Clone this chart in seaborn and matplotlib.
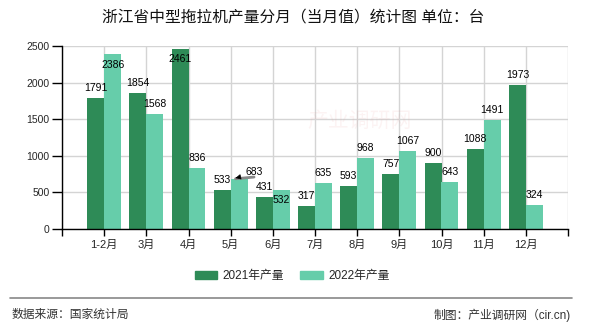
import matplotlib
matplotlib.use("Agg")
import matplotlib.pyplot as plt
import seaborn as sns
import pandas as pd

months = ["1-2月", "3月", "4月", "5月", "6月", "7月", "8月", "9月", "10月", "11月", "12月"]
y2021 = [1791, 1854, 2461, 533, 431, 317, 593, 757, 900, 1088, 1973]
y2022 = [2386, 1568, 836, 683, 532, 635, 968, 1067, 643, 1491, 324]
series_names = ["2021年产量", "2022年产量"]
yticks = [0, 500, 1000, 1500, 2000, 2500]

title = "浙江省中型拖拉机产量分月（当月值）统计图 单位：台"
source = "数据来源：国家统计局"
credit = "制图：产业调研网（cir.cn)"
watermark = "产业调研网"

colors = ["#2e8b57", "#66cdaa"]

df = pd.DataFrame({
    "month": months * 2,
    "value": y2021 + y2022,
    "series": [series_names[0]] * len(months) + [series_names[1]] * len(months),
})

sns.set_theme(style="white")
plt.rcParams["font.family"] = ["Liberation Sans", "Noto Sans CJK SC", "DejaVu Sans"]

fig = plt.figure(figsize=(5.9, 3.3), dpi=100)
ax = fig.add_axes([62 / 590, 101 / 330, 506 / 590, 183 / 330])

sns.barplot(data=df, x="month", y="value", hue="series", order=months,
            hue_order=series_names, palette=colors, width=0.8, saturation=1,
            ax=ax, legend=False, zorder=2)
for p in ax.patches:
    p.set_edgecolor("none")

ax.set_xlim(-1, len(months))
ax.set_ylim(0, 2500)
ax.set_xticks(range(-1, len(months) + 1))
ax.set_xticklabels([""] + months + [""], fontsize=8)
ax.set_yticks(yticks)
ax.set_yticklabels([str(v) for v in yticks], fontsize=7.5)
ax.set_xlabel("")
ax.set_ylabel("")
ax.grid(True, color="#d4d4d4", lw=1, zorder=0)
ax.set_axisbelow(True)
for s in ["top", "right"]:
    ax.spines[s].set_visible(False)
for s in ["left", "bottom"]:
    ax.spines[s].set_color("black")
    ax.spines[s].set_linewidth(1)
ax.tick_params(axis="x", which="both", direction="out", length=5, width=1,
               color="black", bottom=True, pad=3)
ax.tick_params(axis="y", which="both", direction="out", length=7, width=1,
               color="black", left=True, pad=2)

# value labels (pixel offsets for a few labels that are displaced in the original)
px = 0.72
special = {(0, 2): (0, -20), (1, 0): (0, -21), (1, 3): (15, -3), (1, 4): (0, -20)}
for si, vals in enumerate([y2021, y2022]):
    for i, v in enumerate(vals):
        xc = i + (-0.2 if si == 0 else 0.2)
        dx, dy = special.get((si, i), (0, 0))
        ax.annotate(str(v), (xc, v), xytext=(dx * px, (5 + dy) * px),
                    textcoords="offset points", ha="center", va="bottom",
                    fontsize=7.5, color="black", zorder=5, annotation_clip=False)

# leader for the displaced 683 label
i683 = 3
ax.annotate("", xy=(i683 + 0.05, y2022[i683]), xytext=(i683 + 0.62, y2022[i683] + 30),
            arrowprops=dict(arrowstyle="-", color="#888888", lw=2), zorder=4)
ax.annotate("", xy=(i683 + 0.05, y2022[i683] + 5), xytext=(i683 + 0.2, y2022[i683] + 25),
            arrowprops=dict(arrowstyle="-|>", color="black", lw=0.5, mutation_scale=8), zorder=5)

# faint watermark
fig.text(360 / 590, 1 - 121 / 330, watermark, fontsize=15, color="#e8a0a0", alpha=0.12,
         ha="center", va="center", family=["Noto Sans CJK SC"])

fig.text(0.497, 0.948, title, ha="center", va="center", fontsize=11.3, color="#111111")

handles = [plt.Rectangle((0, 0), 1, 1, color=c) for c in colors]
fig.legend(handles, series_names, loc="center", bbox_to_anchor=(0.495, 0.163),
           ncol=2, frameon=False, fontsize=8.5, handlelength=1.9, handleheight=0.7,
           handletextpad=0.45, columnspacing=1.4)

fig.add_artist(plt.Line2D([10 / 590, 572 / 590], [1 - 298 / 330, 1 - 298 / 330],
                          color="#888888", lw=1.2))
fig.text(12 / 590, 1 - 315 / 330, source, ha="left", va="center", fontsize=8.5, color="#333333")
fig.text(571 / 590, 1 - 315 / 330, credit, ha="right", va="center", fontsize=8.5, color="#333333")

fig.savefig("out.png", dpi=100)
